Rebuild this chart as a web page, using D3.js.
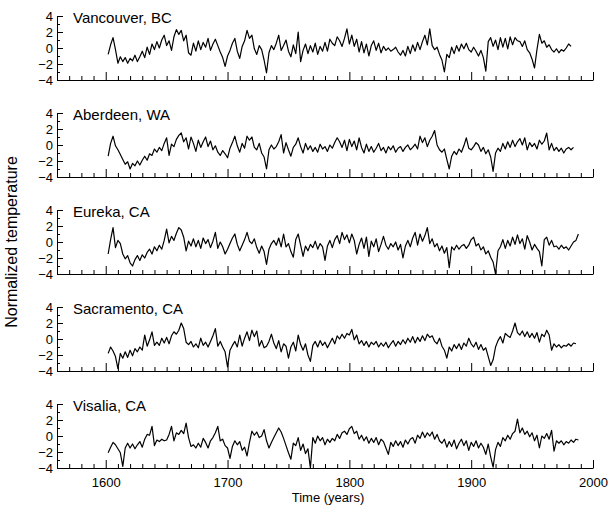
<!DOCTYPE html>
<html>
<head>
<meta charset="utf-8">
<script src="https://cdn.jsdelivr.net/npm/d3@7"></script>
<style>
  body { margin: 0; background: #fff; }
  svg { display: block; font-family: Arial, "Liberation Sans", Helvetica, sans-serif; }
</style>
</head>
<body>
<div id="chart"></div>
<script>
var sites = ['Vancouver, BC', 'Aberdeen, WA', 'Eureka, CA', 'Sacramento, CA', 'Visalia, CA'];

// one value every two years, starting 1602
var firstYear = 1602;
var yearStep = 2;

var vancouver = [
  -0.8, 0.4, 1.3, -0.2, -1.9,
  -1.1, -1.7, -1.2, -1.9, -1.3,
  -1.6, -0.9, -1.7, -1.1, -0.4,
  -1.2, 0.1, -0.8, 0.5, -0.2,
  0.8, 0.0, 1.0, 1.6, 0.3,
  0.9, -0.3, 1.4, 2.3, 1.7,
  2.2, 0.9, 1.6, -0.6, -0.9,
  0.6, -0.4, 0.9, -0.2, 0.7,
  0.1, 1.2, -0.3, 0.5, 1.1,
  0.3, -0.5, -1.2, -2.3, -1.0,
  -0.3, 0.6, 1.2, -0.4, -1.3,
  0.2, 0.9, 2.2, 1.2, 1.6,
  -0.1, -0.8, 0.3, -0.2, -1.5,
  -3.1, -0.6, 0.3, -0.2, 0.6,
  1.6, -0.3, 0.3, 1.0, -0.4,
  -1.1, 0.4, -0.7, 2.0, -1.7,
  -0.3, 0.5, -0.7, 0.3, -0.5,
  0.6, -0.8, 0.2, -0.4, 0.7,
  -0.4, 1.1, 0.6, 0.3, 1.4,
  0.9, 0.2, 1.2, 2.4, 0.5,
  1.6, 0.2, 1.1, -0.5, 0.8,
  -0.6, 0.5, -1.0, 0.3, 0.9,
  -0.3, 0.6, -0.6, 0.2, -0.3,
  0.0, -0.4, -0.2, 0.1, -0.5,
  -0.9, -0.3, -1.0, 0.2, -0.7,
  0.4, -0.4, 0.7, -0.2, 0.8,
  1.6, 0.4, 2.4, 0.3, -0.2,
  0.1, -0.8, -1.5, -3.0, -0.8,
  -1.2, 0.1, -0.7, 0.3, -0.4,
  0.5, -0.1, 0.6, -0.2, -0.5,
  0.1, -0.4, -1.0, -0.3, -1.2,
  -2.9, 0.8, 1.3, 0.2, 1.0,
  -0.2, 1.3, 0.1, 1.2, -0.1,
  1.4, 0.4, 1.3, 0.9, 0.8,
  0.2, 0.9, -0.2, -0.6, -1.4,
  -2.5, -0.2, 1.7, 0.6, 0.9,
  0.1, 0.4, -0.2, -0.5, -0.1,
  -0.6, -0.2, -0.4, 0.0, 0.5,
  0.2
];

var aberdeen = [
  -1.4, 0.2, 1.1, -0.1, -0.6,
  -1.2, -1.8, -2.4, -2.1, -3.0,
  -2.3, -2.6, -2.0, -2.5, -1.9,
  -1.4, -1.9, -1.1, -1.3, -0.5,
  -0.9, -0.3, -0.7, 0.2, 0.9,
  -1.3, 0.1, -0.2, 0.7, 1.2,
  1.5, 0.4, 0.9, -0.5, 1.0,
  0.2, -0.8, 0.6, -0.3, 0.4,
  1.0, -0.2, 0.5, -0.6, -0.1,
  -0.9, -1.3, -0.7, -1.1, -1.6,
  -0.4, 0.3, 1.1, -0.1, -0.9,
  0.2, -0.4, 1.1, 0.6, 1.0,
  -0.3, -0.6, 0.2, -1.0, -1.5,
  -3.0, -0.6, 0.0, -0.5, -0.2,
  0.4, 1.3, -1.0, 0.3, -0.6,
  -1.4, -0.3, 0.1, 0.9, -0.2,
  -1.0, 0.2, -0.6, -0.1, -0.8,
  -0.3, -0.9, 0.1, -0.5, -0.2,
  -0.8, 0.0, -0.4, 0.3, 0.9,
  0.4, -0.3, 0.6, -0.7, 0.7,
  -0.2, 0.5, -0.6, 0.9, -0.3,
  -1.0, 0.1, -0.8, -0.2, -0.9,
  -0.4, 0.2, -0.7, -0.3, -1.0,
  -0.2, -0.6, -0.1, -0.9, -0.4,
  -0.2, -0.8, -0.3, 0.0, -0.6,
  -0.3, 0.1, -0.5, 1.1, 0.3,
  0.9, -0.2, 0.6, 1.1, 1.8,
  0.0, -0.6, -0.9, -0.5, -1.8,
  -3.0, -1.4, -0.8, -1.2, -0.5,
  -0.9, -0.1, 0.9, -0.4, -0.6,
  -0.2, 0.3, 0.0, -0.8, -0.3,
  -1.1, -0.6, -1.5, -3.3, -1.0,
  -0.4, -0.8, 0.2, -0.5, 0.4,
  -0.3, 0.6, -0.2, 0.4, 0.8,
  0.0, 0.9, -0.6, 0.3, -0.2,
  0.2, -0.5, 0.6, 0.1, 0.5,
  1.5, -0.6, 0.2, -0.7, -0.3,
  -0.8, -0.4, -1.0, -0.5, -0.3,
  -0.6, -0.3
];

var eureka = [
  -1.5, 0.3, 1.8, -0.7, 0.2,
  -0.2, -1.5, -2.1, -1.7, -2.6,
  -3.0, -2.2, -1.7, -2.3, -1.6,
  -2.0, -1.3, -0.9, -1.5, -0.6,
  -1.1, -0.4, -0.9, 0.2, 1.6,
  -0.1, 0.7, 0.2, 1.1, 1.8,
  1.5, 0.6, -1.1, 0.1, -0.5,
  0.4, -0.6, 0.2, -0.8, 0.5,
  -0.2, 0.3, -0.7, 0.1, 1.2,
  -0.8, 0.0, -0.6, -1.5, -0.9,
  -0.2, 0.5, 1.0, -0.3, -1.1,
  -0.4, 0.3, 1.2, 0.1, -0.2,
  0.4, -0.7, -1.4, -0.5, -1.2,
  -2.8, -0.9, -0.2, 0.2, -0.4,
  0.5, -0.6, 1.0, -0.6, -0.2,
  -1.2, -1.9, 0.3, 1.0, -0.4,
  -1.8, -0.5, -1.1, -0.3, -0.7,
  0.1, -0.9, -0.2, -0.6, -2.3,
  -0.5, 0.2, -0.7, 0.3, 0.8,
  -0.2, 1.2, 0.3, 0.9, -0.1,
  1.0, 0.2, -1.5, -0.3, 0.5,
  -0.8, 0.6, -1.8, 0.1, -0.6,
  0.4, -1.2, -0.3, 0.7, -0.4,
  -0.9, -0.2, -0.6, 0.0, -1.0,
  -0.3, -2.0, -0.5, 0.2, -0.6,
  0.5, 1.2, -0.4, 1.0, 0.1,
  0.8, 1.8, -0.2, 0.4, -0.6,
  -0.2, -1.1, -0.5, -1.4, -0.7,
  -3.2, -0.6, -1.0, -0.4, -0.9,
  -0.5, -0.3, -0.8, -0.4, 0.3,
  0.6, -0.5, -0.2, -1.0, -0.6,
  -1.5, -1.1, -1.9, -2.5, -4.0,
  -1.1, -0.6, 0.3, -0.8, 0.2,
  -0.5, 0.6, -0.3, 0.9, -0.2,
  0.4, -0.9, 0.8, 0.0, -1.0,
  -0.3, -0.8, -1.2, -3.0, 0.3,
  0.6, -0.4, 0.2, -0.6, -0.5,
  -0.9, -0.4, -0.8, -0.6, -1.0,
  -0.5, 0.0, 0.2, 1.0
];

var sacramento = [
  -1.8, -1.0, -1.5, -2.2, -3.7,
  -1.8, -2.4, -1.6, -2.3, -1.4,
  -2.1, -1.2, -1.6, -1.0, -1.4,
  0.5, -0.9, -0.1, 0.9, -0.8,
  -0.4, -0.8, 0.1, -0.5, 0.2,
  -0.6, 0.4, 0.9, 0.6, 1.1,
  2.0, 1.3, -0.4, -0.7, -0.3,
  -1.0, -0.6, -1.1, 0.1, -0.8,
  -0.4, -1.0, -0.3, 0.4, 1.3,
  -0.9, -0.3, -1.0, -1.6, -3.5,
  -1.4, -0.8, -0.3, -1.0, 0.5,
  -0.9, 0.1, 0.9, -0.2, 1.1,
  0.3, 1.0, -0.9, -0.2, -1.1,
  -0.9, -0.3, 0.6, -0.5, -1.2,
  -0.2, -1.6, -0.6, -0.9, -2.4,
  -1.0, -0.4, -1.5, 0.5, -0.7,
  -1.4, -0.6, -2.0, -2.8, -0.8,
  -0.3, -1.0, -0.2, -0.8, -0.4,
  -1.1, -0.5, 0.1, -0.6, 0.4,
  0.0, 0.6, 0.1, 0.7, 0.5,
  1.2, -0.1, 0.5, -0.6, -0.2,
  -0.8, -0.3, -1.0, -0.4, -0.7,
  -0.3, -1.0, -0.5, -0.9, -0.4,
  -1.1, -0.6, -0.2, -0.9, -0.3,
  -0.7, -0.1, -0.6, 0.1, -0.4,
  0.3, -0.5, 0.2, -0.3, 0.4,
  -0.2, 0.6, 0.2, 0.4, -0.3,
  -0.6, 0.1, -0.9, -1.4, -2.4,
  -1.0, -1.5, -0.7, -1.2, -0.6,
  -1.3, -0.5, -0.9, 0.1, -0.6,
  -1.0, -0.4, -1.3, -0.7, -1.4,
  -1.1, -2.2, -3.3, -2.6, -1.0,
  -0.2, 0.3, -0.5, 0.7, 0.4,
  0.2, 1.0, 2.0, 0.8, 0.5,
  1.0, 0.3, 0.9, 0.2, 0.7,
  0.1, 0.8, -0.4, 0.6, 0.3,
  1.1, 0.5, -1.4, -0.6, -1.0,
  -0.7, -1.1, -0.8, -0.9, -0.6,
  -0.9, -0.5, -0.6
];

var visalia = [
  -2.1, -1.4, -0.8, -1.1, -1.6,
  -2.1, -3.8, -1.5, -0.9, -1.5,
  -1.0, -1.6, -1.1, -0.7, -1.4,
  -0.4, 0.2, 0.1, 1.2, -1.2,
  -0.5, -0.7, -0.4, -0.6, -0.5,
  0.2, 1.2, -0.6, 0.4, 0.2,
  0.7, 0.3, 1.6, -0.2, -1.3,
  -1.1, -1.5, -0.9, -1.4, -0.3,
  -0.8, -1.5, -0.6, -0.2, 0.4,
  1.2, -0.6, -0.4, -1.2, -1.5,
  -2.8, -1.3, -0.6, -1.1, -0.7,
  -1.8, -1.4, -2.5, -0.8, 0.6,
  0.1, 0.5, -0.2, 0.0, 0.8,
  -0.6, -1.5, -0.8, -0.2, 0.4,
  1.0, 0.5, -0.3, -1.2, -2.1,
  -2.9, -0.9, -1.2, -0.2, -1.8,
  -1.0, -2.2, -1.6, -4.0, -0.2,
  -0.9, 0.0, -0.6, -0.2, -1.1,
  -0.4, -0.8, -0.3, -0.6, 0.2,
  -0.3, 0.4, 0.6, 0.2, 0.9,
  1.2, 0.3, 0.6, -0.4, 0.1,
  -0.6, -0.1, -0.9, -0.3, -0.8,
  -0.2, -1.1, -0.4, -0.7, -1.5,
  -2.3, -0.8, -1.3, -0.6, -1.2,
  -0.7, -1.4, -0.5, -1.0, -0.4,
  -0.2, -0.9, 0.1, -0.3, 0.5,
  -0.2, 0.4, 0.0, 0.5, -0.4,
  0.2, -0.6, -0.9, -0.4, -1.4,
  -0.7, -1.3, -0.5, -1.6, -0.9,
  -0.4, -1.2, -0.6, -1.8, -0.8,
  -1.3, -0.6, -1.5, -0.9, -1.4,
  -2.3, -1.0, -2.6, -3.9, -1.7,
  -0.8, -1.3, -0.2, -0.6, 0.1,
  -0.4, 0.3, 0.6, 2.1, 0.4,
  1.0, 0.2, 0.6, -0.1, 0.4,
  -0.6, 0.1, -1.5, 0.0, -0.3,
  0.3, -0.4, 0.7, -1.9, -0.6,
  -0.9, -0.6, -1.1, -0.7, -0.9,
  -0.5, -0.8, -0.4, -0.5
];

var series = [vancouver, aberdeen, eureka, sacramento, visalia];

var yTicks = [-4, -2, 0, 2, 4];
var yMinorTicks = [-3, -1, 1, 3];
var xTicks = [1600, 1700, 1800, 1900, 2000];
var xMinorTicks = d3.range(1570, 2000, 10).filter(function (d) { return d % 100 !== 0; });

var width = 613;
var height = 510;
var left = 57;
var right = 593;
var firstTop = 16;
var panelGap = 97;
var panelHeight = 64;

var svg = d3.select('#chart')
  .append('svg')
  .attr('width', width)
  .attr('height', height);

var x = d3.scaleLinear().domain([1560, 2000]).range([left, right]);

var styleAxis = function (g) {
  g.attr('font-family', null).attr('font-size', 13);
  g.selectAll('line, path').attr('stroke', '#000');
  g.selectAll('text').attr('fill', '#000');
};

series.forEach(function (values, i) {
  var top = firstTop + i * panelGap;
  var bottom = top + panelHeight;
  var isLast = i === series.length - 1;

  var y = d3.scaleLinear().domain([-4, 4]).range([bottom, top]);

  var panel = svg.append('g').attr('class', 'panel');

  panel.append('g')
    .attr('transform', 'translate(' + left + ',0)')
    .call(d3.axisLeft(y).tickValues(yMinorTicks).tickSize(-3).tickFormat(''))
    .call(function (g) { g.select('.domain').remove(); })
    .call(styleAxis);

  panel.append('g')
    .attr('transform', 'translate(' + left + ',0)')
    .call(d3.axisLeft(y).tickValues(yTicks).tickSize(-6).tickSizeOuter(0).tickPadding(4))
    .call(styleAxis);

  panel.append('g')
    .attr('transform', 'translate(0,' + bottom + ')')
    .call(d3.axisBottom(x).tickValues(xMinorTicks).tickSize(-4).tickFormat(''))
    .call(function (g) { g.select('.domain').remove(); })
    .call(styleAxis);

  var xAxis = d3.axisBottom(x).tickValues(xTicks).tickSize(-8).tickSizeOuter(0).tickPadding(10);
  if (!isLast) {
    xAxis.tickFormat('');
  } else {
    xAxis.tickFormat(d3.format('d'));
  }

  panel.append('g')
    .attr('transform', 'translate(0,' + bottom + ')')
    .call(xAxis)
    .call(styleAxis);

  var line = d3.line()
    .x(function (d, j) { return x(firstYear + j * yearStep); })
    .y(function (d) { return y(d); });

  panel.append('path')
    .datum(values)
    .attr('fill', 'none')
    .attr('stroke', '#000')
    .attr('stroke-width', 1.2)
    .attr('stroke-linejoin', 'round')
    .attr('d', line);

  panel.append('text')
    .attr('x', 73)
    .attr('y', top + 7)
    .attr('font-size', 15)
    .text(sites[i]);
});

svg.append('text')
  .attr('x', 328)
  .attr('y', 502)
  .attr('text-anchor', 'middle')
  .attr('font-size', 13)
  .text('Time (years)');

svg.append('text')
  .attr('transform', 'translate(17,' + 242 + ') rotate(-90)')
  .attr('text-anchor', 'middle')
  .attr('font-size', 16)
  .text('Normalized temperature');
</script>
</body>
</html>
